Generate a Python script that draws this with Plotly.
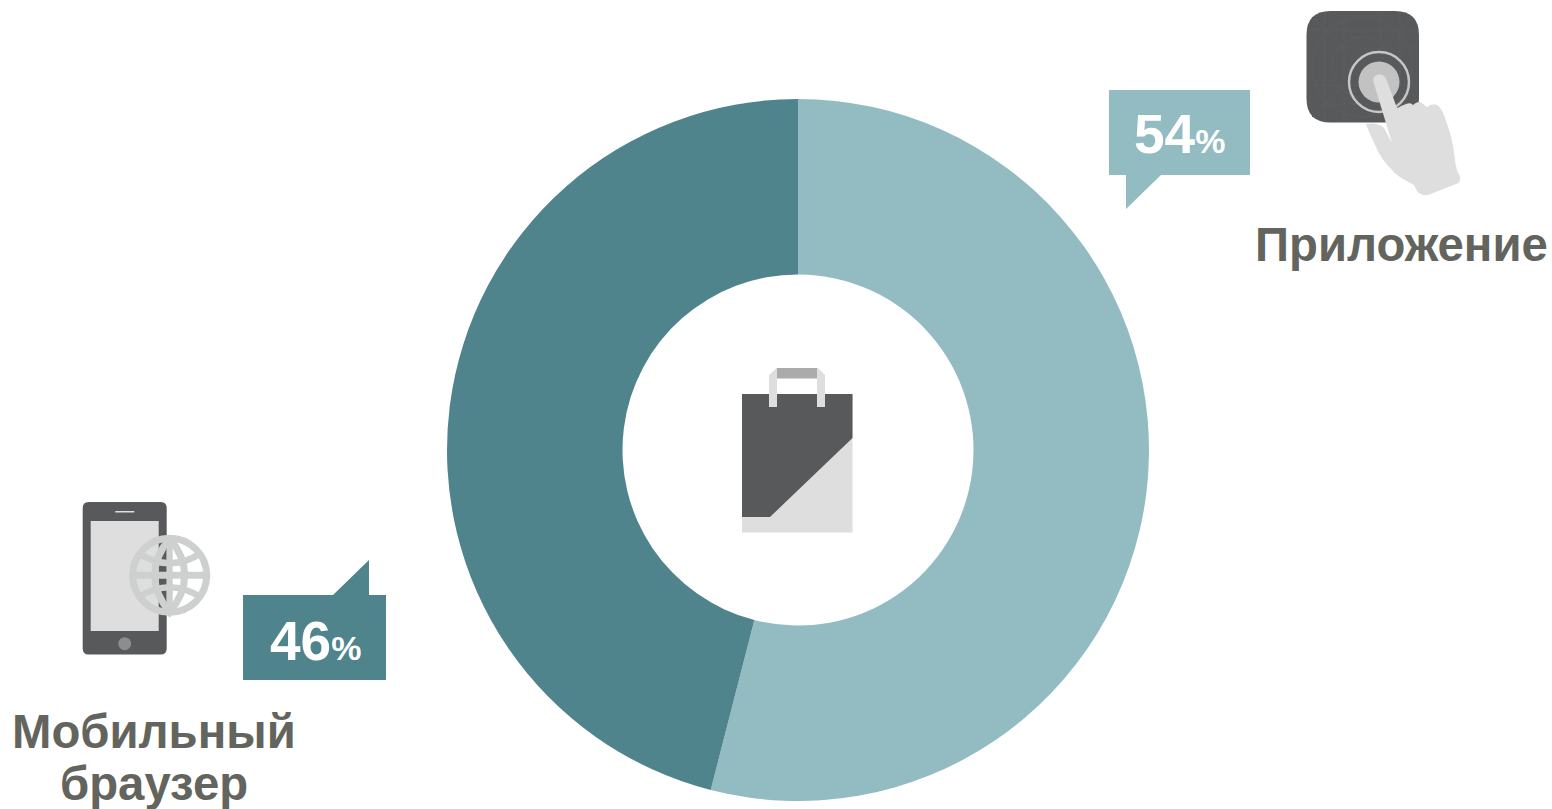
import plotly.graph_objects as go

# Share of purchases by channel
channels = ["Приложение", "Мобильный браузер"]
shares = [54, 46]
slice_colors = ["#92BCC2", "#4F848D"]

FONT = "Liberation Sans"
TEXT_GREY = "#63645D"
ICON_DARK = "#58595B"
ICON_LIGHT = "#DEDEDE"
GLOBE = "#CDD0CF"
W, H = 1552, 809


def poly(points, fill, **kw):
    path = "M " + " L ".join(f"{x},{y}" for x, y in points) + " Z"
    return dict(type="path", path=path, fillcolor=fill, line=dict(width=0), xref="x", yref="y", **kw)


def rect(x0, y0, x1, y1, fill):
    return dict(type="rect", x0=x0, y0=y0, x1=x1, y1=y1, fillcolor=fill, line=dict(width=0), xref="x", yref="y")


def circle(cx, cy, r, fill="rgba(0,0,0,0)", stroke=None, sw=0):
    return dict(type="circle", x0=cx - r, y0=cy - r, x1=cx + r, y1=cy + r, fillcolor=fill,
                line=dict(width=sw, color=stroke or fill), xref="x", yref="y")


def curve(path, stroke, sw, fill="rgba(0,0,0,0)"):
    return dict(type="path", path=path, fillcolor=fill, line=dict(width=sw, color=stroke), xref="x", yref="y")


def rounded(x0, y0, x1, y1, r, fill):
    path = (f"M {x0 + r},{y0} L {x1 - r},{y0} Q {x1},{y0} {x1},{y0 + r} L {x1},{y1 - r} Q {x1},{y1} {x1 - r},{y1} "
            f"L {x0 + r},{y1} Q {x0},{y1} {x0},{y1 - r} L {x0},{y0 + r} Q {x0},{y0} {x0 + r},{y0} Z")
    return dict(type="path", path=path, fillcolor=fill, line=dict(width=0), xref="x", yref="y")


shapes = []

# Value callouts
shapes.append(poly([(1109, 90), (1250, 90), (1250, 175), (1161, 175), (1126, 209), (1126, 175), (1109, 175)], slice_colors[0]))
shapes.append(poly([(243, 595), (333, 595), (369, 560), (369, 595), (386, 595), (386, 680), (243, 680)], slice_colors[1]))

# Shopping bag in the hole of the ring
shapes.append(rect(742, 394, 852.5, 532.5, ICON_LIGHT))
shapes.append(poly([(742, 394), (852.5, 394), (852.5, 438), (770, 517), (742, 517)], ICON_DARK))
shapes.append(rect(777, 368, 817, 378.5, "#ABABAB"))
shapes.append(poly([(769, 407), (769, 375), (776.5, 368), (777, 368), (777, 407)], ICON_LIGHT))
shapes.append(poly([(817, 407), (817, 368), (818, 368), (825, 375), (825, 407)], ICON_LIGHT))

# App tile with its faint construction grid
PATTERN = "#5D5E60"
shapes.append(rounded(1306.5, 11, 1419, 122.5, 24, ICON_DARK))
for x in (1325, 1344, 1381, 1400):
    shapes.append(curve(f"M {x},12 L {x},122", PATTERN, 1))
for y in (30, 48, 85, 104):
    shapes.append(curve(f"M 1307,{y} L 1418,{y}", PATTERN, 1))
shapes.append(curve("M 1312,17 L 1344,48 M 1413,17 L 1381,48 M 1312,117 L 1344,85 M 1413,117 L 1381,85", PATTERN, 1))
shapes.append(circle(1362, 67, 50, stroke=PATTERN, sw=1))
shapes.append(circle(1362, 67, 30, stroke=PATTERN, sw=1))

# Touch target and pointing hand
shapes.append(circle(1379, 82, 30, stroke="#C6C6C6", sw=2.5))
shapes.append(circle(1379, 82, 20.5, fill="#C2C2C2"))
shapes.append(dict(
    type="path",
    path=("M 1366,124 Q 1378,122 1384,128 L 1392,143 L 1373.5,82 Q 1372,75 1379,74.5 Q 1385,74 1387,81 "
          "L 1397,108 Q 1403,105 1406,104 Q 1411,102 1413,105 Q 1418,100 1422,103 Q 1425,106 1427,107 "
          "Q 1432,103 1437,105 Q 1440,106 1444,115 Q 1453,138 1455,160 Q 1456,170 1460,176 Q 1461,183 1456,184 "
          "L 1428,195 Q 1421,196 1417,191 L 1414,185 Q 1396,176 1391,169 Q 1381,159 1376,147 Q 1370,135 1366,124 Z"),
    fillcolor=ICON_LIGHT, line=dict(width=0), xref="x", yref="y"))

# Phone
shapes.append(rounded(82.7, 502, 166.7, 654.5, 6, ICON_DARK))
shapes.append(rect(90.7, 521, 158.7, 631, ICON_LIGHT))
shapes.append(rect(115.3, 511, 134.3, 512.5, ICON_LIGHT))
shapes.append(circle(124.7, 643.7, 6.5, fill="#8C8D8E"))

# Globe drawn as strokes so the phone shows through
GX, GY, GR = 169.7, 575.3, 37
shapes.append(circle(GX, GY, GR, stroke=GLOBE, sw=7))
shapes.append(curve(f"M {GX},{GY - GR} L {GX},{GY + GR}", GLOBE, 6))
shapes.append(curve(f"M {GX - GR},{GY} L {GX + GR},{GY}", GLOBE, 7))
shapes.append(curve(f"M {GX},{GY - GR} Q {GX - 30},{GY} {GX},{GY + GR} Q {GX + 30},{GY} {GX},{GY - GR}", GLOBE, 7))
shapes.append(curve(f"M {GX - 31},{GY - 22} Q {GX},{GY - 2} {GX + 31},{GY - 22}", GLOBE, 6.5))
shapes.append(curve(f"M {GX - 31},{GY + 22} Q {GX},{GY + 2} {GX + 31},{GY + 22}", GLOBE, 6.5))


def value_label(value, x, y):
    return dict(x=x, y=y, xref="x", yref="y", showarrow=False, xanchor="center", yanchor="middle",
                text=f'<b>{value}<span style="font-size:34px">%</span></b>',
                font=dict(family=FONT, size=55, color="#FFFFFF"))


def name_label(text, x, y):
    return dict(x=x, y=y, xref="x", yref="y", showarrow=False, xanchor="center", yanchor="middle",
                text=f"<b>{text}</b>", font=dict(family=FONT, size=47.3, color=TEXT_GREY))


first, second = channels[1].split(" ")
annotations = [
    value_label(shares[0], 1179.5, 133.5),
    value_label(shares[1], 315, 640.5),
    name_label(channels[0], 1401, 244),
    name_label(first, 153.5, 731),
    name_label(second, 154, 783),
]

fig = go.Figure()
# Invisible trace that anchors the pixel frame used by the icons
fig.add_trace(go.Scatter(x=[0, W], y=[0, H], mode="none", showlegend=False, hoverinfo="skip"))
fig.add_trace(go.Pie(
    labels=channels, values=shares, hole=0.5, sort=False, direction="clockwise", rotation=0,
    marker=dict(colors=slice_colors, line=dict(width=0)), textinfo="none", showlegend=False,
    domain=dict(x=[447 / W, 1149 / W], y=[1 - 801 / H, 1 - 99 / H]),
))
fig.update_layout(
    width=W, height=H, margin=dict(l=0, r=0, t=0, b=0), paper_bgcolor="#FFFFFF", plot_bgcolor="#FFFFFF",
    xaxis=dict(visible=False, range=[0, W], fixedrange=True),
    yaxis=dict(visible=False, range=[H, 0], fixedrange=True),
    shapes=shapes, annotations=annotations,
)
fig.write_html("out.html")
